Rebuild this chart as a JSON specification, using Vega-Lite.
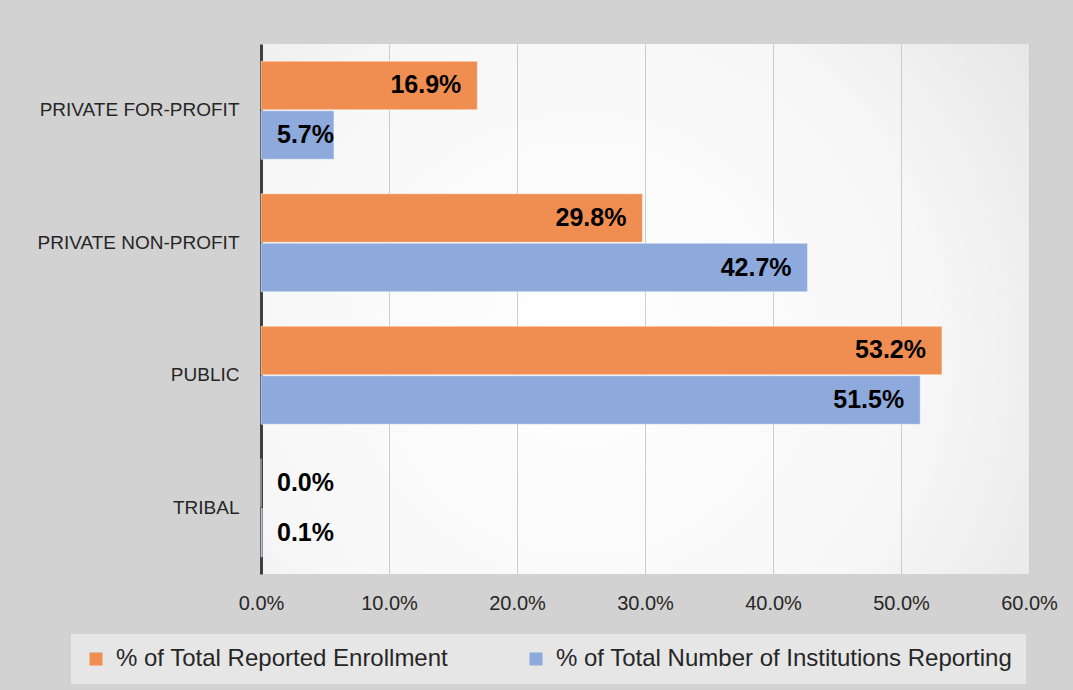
{
  "$schema": "https://vega.github.io/schema/vega-lite/v6.json",
  "width": 768,
  "height": 530,
  "autosize": "none",
  "padding": {"left": 261, "top": 44, "right": 44, "bottom": 116},
  "background": "#d2d2d2",
  "config": {
    "font": "Liberation Sans",
    "view": {
      "stroke": null,
      "fill": {
        "gradient": "radial",
        "x1": 0.42, "y1": 0.55, "r1": 0,
        "x2": 0.42, "y2": 0.55, "r2": 0.9,
        "stops": [
          {"offset": 0, "color": "#ffffff"},
          {"offset": 0.5, "color": "#f7f7f7"},
          {"offset": 1, "color": "#dadada"}
        ]
      }
    }
  },
  "data": {
    "values": [
      {"type": "PRIVATE FOR-PROFIT", "series": "% of Total Reported Enrollment", "value": 0.169},
      {"type": "PRIVATE FOR-PROFIT", "series": "% of Total Number of Institutions Reporting", "value": 0.057},
      {"type": "PRIVATE NON-PROFIT", "series": "% of Total Reported Enrollment", "value": 0.298},
      {"type": "PRIVATE NON-PROFIT", "series": "% of Total Number of Institutions Reporting", "value": 0.427},
      {"type": "PUBLIC", "series": "% of Total Reported Enrollment", "value": 0.532},
      {"type": "PUBLIC", "series": "% of Total Number of Institutions Reporting", "value": 0.515},
      {"type": "TRIBAL", "series": "% of Total Reported Enrollment", "value": 0.0},
      {"type": "TRIBAL", "series": "% of Total Number of Institutions Reporting", "value": 0.001}
    ]
  },
  "encoding": {
    "y": {
      "field": "type",
      "type": "nominal",
      "sort": ["PRIVATE FOR-PROFIT", "PRIVATE NON-PROFIT", "PUBLIC", "TRIBAL"],
      "scale": {"paddingInner": 0.26, "paddingOuter": 0.13},
      "axis": {
        "title": null,
        "domain": true,
        "domainColor": "#3f3f3f",
        "domainWidth": 3,
        "ticks": false,
        "grid": false,
        "labelPadding": 22,
        "labelFontSize": 19,
        "labelLimit": 400,
        "labelColor": "#262626"
      }
    },
    "yOffset": {
      "field": "series",
      "type": "nominal",
      "sort": ["% of Total Reported Enrollment", "% of Total Number of Institutions Reporting"],
      "scale": {"paddingInner": 0.02}
    }
  },
  "layer": [
    {
      "mark": {"type": "bar", "stroke": "#ffffff", "strokeOpacity": 0.45, "strokeWidth": 1},
      "encoding": {
        "x": {
          "field": "value",
          "type": "quantitative",
          "scale": {"domain": [0, 0.6], "nice": false},
          "axis": {
            "title": null,
            "values": [0, 0.1, 0.2, 0.3, 0.4, 0.5, 0.6],
            "format": ".1%",
            "domain": false,
            "ticks": false,
            "grid": true,
            "gridColor": "#cccccc",
            "gridWidth": 1,
            "labelFlush": false,
            "labelBound": false,
            "labelOverlap": false,
            "labelPadding": 19,
            "labelFontSize": 20,
            "labelColor": "#262626"
          }
        },
        "color": {
          "field": "series",
          "type": "nominal",
          "sort": ["% of Total Reported Enrollment", "% of Total Number of Institutions Reporting"],
          "scale": {
            "domain": ["% of Total Reported Enrollment", "% of Total Number of Institutions Reporting"],
            "range": ["#EF8E50", "#8EA9DB"]
          },
          "legend": {
            "title": null,
            "orient": "none",
            "legendX": -190,
            "legendY": 590,
            "direction": "horizontal",
            "fillColor": "rgba(255,255,255,0.45)",
            "padding": 13,
            "symbolType": "square",
            "symbolSize": 169,
            "symbolStrokeWidth": 0,
            "labelFontSize": 24,
            "labelColor": "#262626",
            "labelOffset": 8,
            "labelLimit": 700,
            "columnPadding": 75
          }
        }
      }
    },
    {
      "transform": [{"filter": "datum.value >= 0.1"}],
      "mark": {"type": "text", "align": "right", "baseline": "middle", "dx": -16, "fontWeight": "bold", "fontSize": 25, "color": "#000000"},
      "encoding": {
        "x": {"field": "value", "type": "quantitative"},
        "text": {"field": "value", "type": "quantitative", "format": ".1%"}
      }
    },
    {
      "transform": [{"filter": "datum.value < 0.1"}],
      "mark": {"type": "text", "align": "left", "baseline": "middle", "dx": 16, "fontWeight": "bold", "fontSize": 25, "color": "#000000"},
      "encoding": {
        "x": {"datum": 0, "type": "quantitative"},
        "text": {"field": "value", "type": "quantitative", "format": ".1%"}
      }
    }
  ]
}
